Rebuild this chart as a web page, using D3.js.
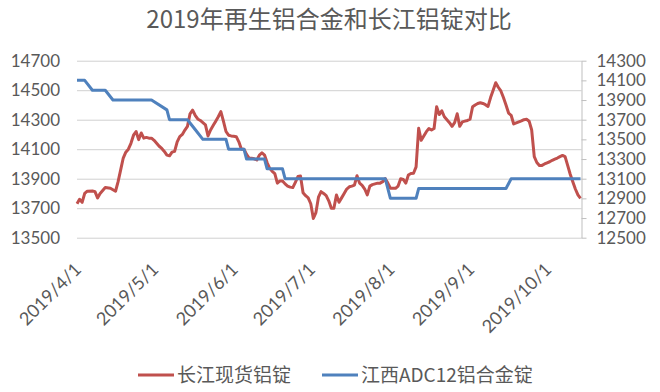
<!DOCTYPE html>
<html><head><meta charset="utf-8">
<script src="https://cdn.jsdelivr.net/npm/d3@7"></script>
<style>
html,body{margin:0;padding:0;background:#fff;}
svg{display:block;}
</style></head>
<body><svg id="c" width="660" height="392"></svg>
<script>
const title = "2019年再生铝合金和长江铝锭对比";
const seriesNames = ["长江现货铝锭", "江西ADC12铝合金锭"];
const leftTicks = [13500, 13700, 13900, 14100, 14300, 14500, 14700];
const rightTicks = [12500, 12700, 12900, 13100, 13300, 13500, 13700, 13900, 14100, 14300];
const monthTicks = ["4/1", "5/1", "6/1", "7/1", "8/1", "9/1", "10/1"];

const redDates = ["4/1","4/2","4/3","4/4","4/5","4/7","4/8","4/9","4/10","4/12","4/14","4/16","4/17","4/18","4/19","4/20","4/21","4/22","4/23","4/24","4/25","4/26","4/27","4/28","4/29","4/30",
"5/1","5/2","5/3","5/4","5/5","5/6","5/7","5/8","5/9","5/10","5/11","5/12","5/13","5/14","5/15","5/16","5/17","5/18","5/19","5/20","5/21","5/22","5/23","5/24","5/25","5/26","5/27","5/28","5/29","5/30","5/31",
"6/1","6/2","6/3","6/4","6/5","6/6","6/7","6/8","6/9","6/10","6/11","6/12","6/13","6/14","6/15","6/16","6/17","6/18","6/19","6/20","6/21","6/22","6/23","6/24","6/25","6/26","6/27","6/28","6/29","6/30",
"7/1","7/2","7/3","7/4","7/5","7/6","7/7","7/8","7/9","7/10","7/11","7/12","7/13","7/14","7/15","7/16","7/17","7/18","7/19","7/20","7/21","7/22","7/23","7/24","7/25","7/26","7/27","7/28","7/29","7/30","7/31",
"8/1","8/2","8/3","8/4","8/5","8/6","8/7","8/8","8/9","8/10","8/11","8/12","8/13","8/14","8/15","8/16","8/17","8/18","8/19","8/20","8/21","8/22","8/23","8/24","8/25","8/26","8/27","8/28","8/29","8/30","8/31",
"9/1","9/2","9/3","9/4","9/5","9/6","9/7","9/8","9/9","9/10","9/11","9/12","9/13","9/14","9/15","9/16","9/17","9/18","9/19","9/20","9/21","9/22","9/23","9/24","9/25","9/26","9/27","9/28","9/29","9/30",
"10/1","10/2","10/3","10/4","10/5","10/6","10/7","10/8","10/9","10/10","10/11","10/12","10/13","10/14"];
const redValues = [13730,13760,13740,13800,13815,13817,13812,13770,13800,13840,13835,13815,13880,13960,14040,14080,14100,14140,14195,14220,14165,14210,14175,14180,14175,14175,
14160,14140,14120,14105,14085,14060,14055,14080,14085,14150,14185,14200,14230,14255,14340,14365,14330,14305,14295,14280,14265,14190,14230,14260,14290,14320,14355,14290,14220,14195,14190,
14188,14185,14150,14100,14100,14065,14040,14038,14035,14027,14060,14076,14060,14010,13970,13950,13935,13870,13885,13885,13865,13850,13843,13840,13875,13915,13918,13805,13785,13770,
13730,13630,13670,13775,13812,13800,13785,13750,13700,13700,13790,13740,13770,13800,13830,13845,13850,13857,13920,13870,13855,13830,13790,13850,13860,13865,13870,13870,13880,13900,13870,
13835,13835,13835,13850,13900,13895,13870,13925,13935,13937,13980,14242,14160,14190,14219,14240,14230,14240,14388,14335,14360,14320,14300,14280,14255,14280,14340,14255,14285,14290,14295,
14303,14388,14400,14410,14415,14410,14402,14390,14450,14500,14551,14520,14495,14450,14400,14345,14330,14271,14278,14285,14292,14300,14303,14290,14230,14050,14010,13990,13990,14000,
14008,14015,14025,14033,14040,14050,14058,14050,13990,13930,13880,13830,13790,13767];

const blueDates = ["4/1","4/4","4/7","4/12","4/15","4/30","5/6","5/7","5/14","5/17","5/20","5/29","5/30","6/5","6/6","6/13","6/14","6/20","6/21","7/30","8/1","8/11","8/12","9/15","9/17","10/14"];
const blueValues = [14100,14100,14000,14000,13900,13900,13800,13700,13700,13600,13500,13500,13400,13400,13300,13300,13200,13200,13100,13100,12900,12900,13000,13000,13100,13100];

const colors = ["#C0504D", "#4F81BD"];
const parse = d3.timeParse("%Y/%m/%d");
const toDate = s => parse("2019/" + s);

const svg = d3.select("#c");
const L = 77, R = 581.5, T = 60.7, B = 237.7;
const x = d3.scaleTime().domain([toDate("4/1"), toDate("10/14")]).range([L, 580.5]);
const yL = d3.scaleLinear().domain([13500, 14700]).range([B, T]);
const yR = d3.scaleLinear().domain([12500, 14300]).range([B, T]);
const numFont = "Lato, 'Open Sans', sans-serif";
const textColor = "#595959";

// title
svg.append("text").attr("x", 329).attr("y", 28).attr("text-anchor", "middle")
  .attr("font-family", "'Noto Sans CJK SC', sans-serif").attr("font-size", 24)
  .attr("fill", textColor).text(title);

// left axis with gridlines
const gl = svg.append("g").attr("transform", `translate(${L},0)`)
  .call(d3.axisLeft(yL).tickValues(leftTicks).tickSize(-(R - L)).tickPadding(17).tickFormat(d3.format("d")));
gl.select(".domain").remove();
gl.selectAll(".tick line").attr("stroke", "#d0d0d0").attr("stroke-width", 1);
gl.selectAll(".tick text").attr("font-family", numFont).attr("font-size", 17).attr("fill", textColor);

// right axis
const gr = svg.append("g").attr("transform", `translate(${R},0)`)
  .call(d3.axisRight(yR).tickValues(rightTicks).tickSizeInner(5).tickSizeOuter(0).tickPadding(10).tickFormat(d3.format("d")));
gr.select(".domain").attr("stroke", "#bfbfbf");
gr.selectAll(".tick line").attr("stroke", "#bfbfbf");
gr.selectAll(".tick text").attr("font-family", numFont).attr("font-size", 17).attr("fill", textColor);

// bottom axis
const gb = svg.append("g").attr("transform", `translate(0,${B})`)
  .call(d3.axisBottom(x).tickValues(monthTicks.map(toDate)).tickSize(0).tickFormat(d3.timeFormat("%Y/%-m/%-d")));
gb.select(".domain").remove();
gb.selectAll(".tick text")
  .attr("font-family", numFont).attr("font-size", 18).attr("fill", textColor)
  .attr("text-anchor", "end").attr("x", 5).attr("y", 33).attr("dy", 0)
  .attr("transform", "rotate(-45, 5, 33)");

// lines
const lineL = d3.line().x(d => x(d[0])).y(d => yL(d[1]));
const lineR = d3.line().x(d => x(d[0])).y(d => yR(d[1]));
svg.append("path").datum(redDates.map((d, i) => [toDate(d), redValues[i]]))
  .attr("d", lineL).attr("fill", "none").attr("stroke", colors[0]).attr("stroke-width", 3).attr("stroke-linejoin", "round");
svg.append("path").datum(blueDates.map((d, i) => [toDate(d), blueValues[i]]))
  .attr("d", lineR).attr("fill", "none").attr("stroke", colors[1]).attr("stroke-width", 3).attr("stroke-linejoin", "round");

// legend
const legendX = [138, 322];
const leg = svg.append("g");
seriesNames.forEach((n, i) => {
  leg.append("line").attr("x1", legendX[i]).attr("x2", legendX[i] + 36).attr("y1", 375).attr("y2", 375)
    .attr("stroke", colors[i]).attr("stroke-width", 3);
  leg.append("text").attr("x", legendX[i] + 39).attr("y", 375).attr("dy", "0.35em")
    .attr("font-family", "'Noto Sans CJK SC', sans-serif").attr("font-size", 19).attr("fill", textColor).text(n);
});
</script></body></html>
